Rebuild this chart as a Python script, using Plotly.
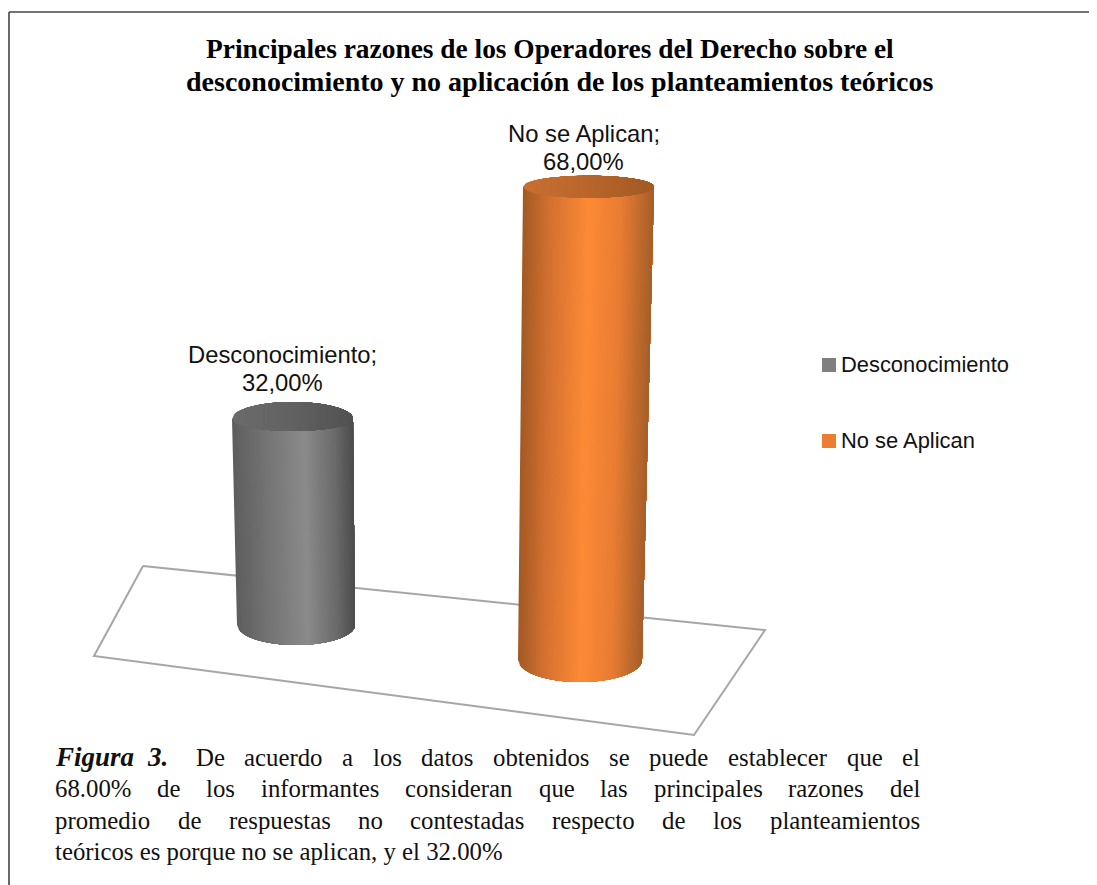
import numpy as np
import plotly.graph_objects as go

# ---- data ----
categories = ["Desconocimiento", "No se Aplican"]
values = [32.0, 68.0]
value_labels = ["32,00%", "68,00%"]
title_lines = ["Principales razones de los Operadores del Derecho sobre el",
               "desconocimiento y no aplicación de los planteamientos teóricos"]
caption_lines = [
    "De acuerdo a los datos obtenidos se puede establecer que el",
    "68.00% de los informantes consideran que las principales razones del",
    "promedio de respuestas no contestadas respecto de los planteamientos",
]
caption_last = "teóricos es porque no se aplican, y el 32.00%"

# ---- style / geometry (pixel based page layout) ----
W, H = 1097, 885
BODY = 8                      # the page keeps its default body margin
PX = 6.96                     # pixels per percentage point on the front plane
Y0 = 660                      # pixel row of value 0 on the front plane
def u(py):                    # page row -> value axis
    return (Y0 - py) / PX

geom = [
    dict(base_y=625, bx0=237, bx1=355, tx0=232, tx1=353, bry=20, cap_up=17, cap_dn=12,
         stops=[(0, "#5e5e5e"), (.25, "#727272"), (.6, "#8b8b8b"), (.85, "#6a6a6a"), (1, "#4c4c4c")],
         cap=[(0, "#6c6c6c"), (.5, "#626262"), (1, "#525252")], swatch="#7f7f7f", depth=0.925,
         lab_dx=-10, lab_dy=19, leg_y=365),
    dict(base_y=660, bx0=518, bx1=642, tx0=523, tx1=654, bry=22, cap_up=11, cap_dn=11,
         stops=[(0, "#a25a24"), (.2, "#d27030"), (.5, "#fd8a36"), (.75, "#e97d33"), (1, "#a65f2a")],
         cap=[(0, "#c87032"), (.5, "#b9662c"), (1, "#a25a24")], swatch="#ed7d31", depth=1.0,
         lab_dx=-5, lab_dy=14, leg_y=441),
]
floor_px = [(143, 566), (765, 630), (694, 735), (94, 656), (143, 566)]

def hex2rgb(h):
    return np.array([int(h[i:i + 2], 16) for i in (1, 3, 5)], float)

def shade(stops, t):
    for (a, ca), (b, cb) in zip(stops, stops[1:]):
        if t <= b:
            f = (t - a) / (b - a)
            c = hex2rgb(ca) * (1 - f) + hex2rgb(cb) * f
            return "rgb(%d,%d,%d)" % tuple(c)
    return stops[-1][1]

fig = go.Figure()

# floor
fig.add_trace(go.Scatter(x=[p[0] for p in floor_px], y=[u(p[1]) for p in floor_px], mode="lines",
                         line=dict(color="#a6a6a6", width=2), fill="toself", fillcolor="white",
                         showlegend=False, hoverinfo="skip"))

N = 70
sans = dict(family="Liberation Sans", size=23.8, color="#111")
for cat, val, lab, g in zip(categories, values, value_labels, geom):
    base = u(g["base_y"])
    top = base + val * g["depth"]          # bar height comes from the value
    bry, up, dn = g["bry"] / PX, g["cap_up"] / PX, g["cap_dn"] / PX
    edges = np.linspace(0, 1, N + 1)
    # body: painter's order, each layer runs from its left edge to the right side of the cylinder
    for a in edges[:-1]:
        ts = np.linspace(a, 1, 40)
        xb = g["bx0"] + (g["bx1"] - g["bx0"]) * ts
        yb = base - bry * np.sqrt(np.clip(1 - (2 * ts - 1) ** 2, 0, 1))
        xt0 = g["tx0"] + (g["tx1"] - g["tx0"]) * a
        col = shade(g["stops"], a + 0.5 / N)
        fig.add_trace(go.Scatter(x=list(xb) + [g["tx1"], xt0, xb[0]],
                                 y=list(yb) + [top, top, yb[0]], mode="lines",
                                 line=dict(width=0), fill="toself", fillcolor=col,
                                 showlegend=False, hoverinfo="skip"))
    # top cap, same approach
    for a in edges[:-1]:
        ts = np.linspace(a, 1, 40)
        xs = g["tx0"] + (g["tx1"] - g["tx0"]) * ts
        hs = np.sqrt(np.clip(1 - (2 * ts - 1) ** 2, 0, 1))
        col = shade(g["cap"], a + 0.5 / N)
        fig.add_trace(go.Scatter(x=list(xs) + list(xs[::-1]),
                                 y=list(top - dn * hs) + list((top + up * hs)[::-1]), mode="lines",
                                 line=dict(width=0), fill="toself", fillcolor=col,
                                 showlegend=False, hoverinfo="skip"))
    # data label
    cx = (g["tx0"] + g["tx1"]) / 2 + g["lab_dx"]
    ly = top + up + g["lab_dy"] / PX
    fig.add_annotation(x=cx, y=ly, xref="x", yref="y", text=lab, showarrow=False, font=sans)
    fig.add_annotation(x=cx, y=ly + 28.5 / PX, xref="x", yref="y", text=f"{cat};", showarrow=False, font=sans)
    # legend entry
    fig.add_trace(go.Scatter(x=[829], y=[u(g["leg_y"])], mode="markers", name=cat,
                             showlegend=False, hoverinfo="name",
                             marker=dict(symbol="square", size=14, color=g["swatch"], line=dict(width=0))))
    fig.add_annotation(x=842, y=u(g["leg_y"] - 1), xref="x", yref="y", text=cat, showarrow=False,
                       xanchor="left", xshift=-3,
                       font=dict(family="Liberation Sans", size=21.9, color="#111"))

# title
for txt, cx, py, fs in zip(title_lines, (550, 559.5), (48.5, 81.5), (27.4, 28)):
    fig.add_annotation(x=cx, y=u(py), xref="x", yref="y", text=f"<b>{txt}</b>", showarrow=False,
                       font=dict(family="Liberation Serif", size=fs, color="black"))

# caption, word by word to reproduce the justified block
TW = dict(zip("abcdefghijklmnopqrstuvwxyz", [.444, .5, .444, .5, .444, .333, .5, .5, .278, .278, .5, .278, .778,
                                             .5, .5, .5, .5, .333, .389, .278, .5, .5, .722, .5, .5, .444]))
TW.update({"ó": .5, "á": .444, "D": .722, ".": .25, ",": .25, "%": .833})
TW.update({d: .5 for d in "0123456789"})
FS = 24.8
def tw(s):
    return sum(TW[c] for c in s) * FS

serif = dict(family="Liberation Serif", size=FS, color="#111")
def word(x, py, text, font=serif):
    fig.add_annotation(x=x, y=u(py), xref="x", yref="y", text=text, showarrow=False, xanchor="left",
                       font=font, xshift=-3)

LEFT, RIGHT = 56, 921
rows = (757, 788, 820, 851)
mark = dict(family="Liberation Serif", size=27, color="#111")
word(LEFT, rows[0], "<b><i>Figura</i></b>", mark)
word(148, rows[0], "<b><i>3.</i></b>", mark)
for i, line in enumerate(caption_lines):
    words = line.split()
    start = 197 if i == 0 else LEFT
    gap = (RIGHT - start - sum(tw(w) for w in words)) / (len(words) - 1)
    x = start
    for w in words:
        word(x, rows[i], w)
        x += tw(w) + gap
word(LEFT, rows[3], caption_last)

fig.update_layout(
    width=W - BODY, height=H - BODY, margin=dict(l=0, r=0, t=0, b=0), paper_bgcolor="white", plot_bgcolor="white",
    showlegend=False,
    xaxis=dict(range=[BODY, W], visible=False, fixedrange=True),
    yaxis=dict(range=[u(H), u(BODY)], visible=False, fixedrange=True),
    shapes=[dict(type="line", xref="x", yref="y", x0=9, x1=W, y0=u(12), y1=u(12),
                 line=dict(color="#444", width=1.6)),
            dict(type="line", xref="x", yref="y", x0=9, x1=9, y0=u(12), y1=u(H),
                 line=dict(color="#444", width=1.6))],
)
fig.write_html("out.html")
